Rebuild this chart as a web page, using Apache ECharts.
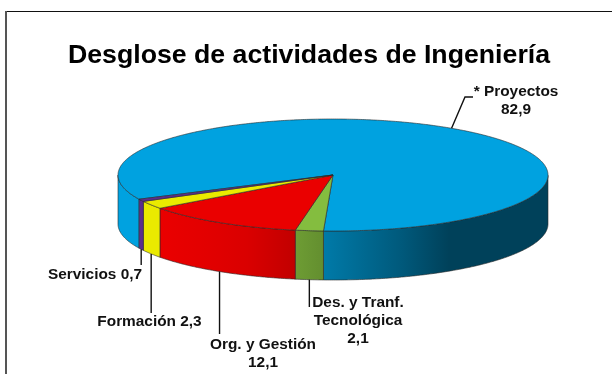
<!DOCTYPE html>
<html><head><meta charset="utf-8">
<style>html,body{margin:0;padding:0;background:#fff}#c{width:612px;height:374px}</style>
<script src="https://cdn.jsdelivr.net/npm/echarts@6/dist/echarts.min.js"></script>
</head><body><div id="c"></div>
<script>
const categories = ['* Proyectos', 'Des. y Tranf. Tecnológica', 'Org. y Gestión', 'Formación', 'Servicios'];
const values = [82.9, 2.1, 12.1, 2.3, 0.7];
const labelLines = [['* Proyectos','82,9'],['Des. y Tranf.','Tecnológica','2,1'],['Org. y Gestión','12,1'],['Formación 2,3'],['Servicios 0,7']];
const topColors = ['#00a2e0','#84bd3f','#ea0000','#eaea00','#5b2d8e'];

const CX=333, CY=175, RX=215, RY=56, DEPTH=49;
const total = values.reduce((a,b)=>a+b,0);
let run=0;
const rows = values.map(v=>{const r=[1,run,run+v]; run+=v; return r;});
const labelLayout = [
  {bend:[[465,97],[473,97]], front:false, text:[516,101]},
  {endY:307, front:true, text:[358,321]},
  {endY:334, front:true, text:[263,353.5]},
  {endY:313, front:true, text:[149.5,322]},
  {endY:265, front:true, text:[95,275]}
];
const wallShade = [[0,1],[0.1,1],[0.2,0.97],[0.3,0.93],[0.41,0.83],[0.48,0.75],[0.66,0.55],[0.77,0.4],[1,0.4]];
function shade(hex,f){
  const n=parseInt(hex.slice(1),16);
  const c=s=>Math.round(((n>>s)&255)*f);
  return `rgb(${c(16)},${c(8)},${c(0)})`;
}
function wallFill(hex){
  return new echarts.graphic.LinearGradient(CX-RX,0,CX+RX,0,wallShade.map(s=>({offset:s[0],color:shade(hex,s[1])})),true);
}
const squash=p=>[p[0],CY+(p[1]-CY)*RY/RX];
const rim=(api,v)=>squash(api.coord([1,v]));

function renderItem(params,api){
  const i=params.dataIndex, a=api.value(1), b=api.value(2);
  const step=total/720, pts=[];
  for(let v=a;v<b;v+=step) pts.push(rim(api,v));
  pts.push(rim(api,b));
  const children=[];
  let seg=[];
  const flush=()=>{ if(seg.length>1){
      const down=seg.slice().reverse().map(p=>[p[0],p[1]+DEPTH]);
      children.push({type:'polygon',shape:{points:seg.concat(down)},
        style:{fill:wallFill(topColors[i]),stroke:'#2a2a2a',lineWidth:0.6}});
    } seg=[]; };
  pts.forEach(p=>{ if(p[1]>=CY-0.01) seg.push(p); else flush(); });
  flush();
  children.push({type:'polygon',shape:{points:[[CX,CY]].concat(pts)},
    style:{fill:topColors[i],stroke:'#2a2a2a',lineWidth:0.6}});
  const L=labelLayout[i], m=rim(api,(a+b)/2);
  const start=L.front?[m[0],m[1]+DEPTH]:m;
  const rest=L.front?[[start[0],L.endY]]:L.bend;
  children.push({type:'polyline',shape:{points:[start].concat(rest)},style:{fill:null,stroke:'#111',lineWidth:1.4}});
  children.push({type:'text',style:{x:L.text[0],y:L.text[1],text:labelLines[i].join('\n'),
    fill:'#111',font:'bold 15.4px "Liberation Sans",Arial,sans-serif',lineHeight:18,align:'center',verticalAlign:'middle'}});
  return {type:'group',children};
}

const chart=echarts.init(document.getElementById('c'),null,{renderer:'canvas'});
chart.setOption({
  animation:false,
  backgroundColor:'#fff',
  title:{text:'Desglose de actividades de Ingeniería',left:304,top:37,textAlign:'center',
    textStyle:{fontFamily:'"Liberation Sans",Arial,sans-serif',fontWeight:'bold',fontSize:26.7,color:'#000'}},
  polar:{center:[CX,CY],radius:RX},
  radiusAxis:{min:0,max:1,show:false},
  angleAxis:{min:0,max:total,startAngle:205.6,clockwise:true,show:false},
  graphic:[
    {type:'line',shape:{x1:6,y1:11.5,x2:612,y2:11.5},style:{stroke:'#111',lineWidth:1.2},silent:true},
    {type:'line',shape:{x1:6,y1:11,x2:6,y2:374},style:{stroke:'#555',lineWidth:2},silent:true}
  ],
  series:[{type:'custom',coordinateSystem:'polar',renderItem,clip:false,silent:true,
    encode:{radius:0,angle:1},data:rows}]
});
</script></body></html>
